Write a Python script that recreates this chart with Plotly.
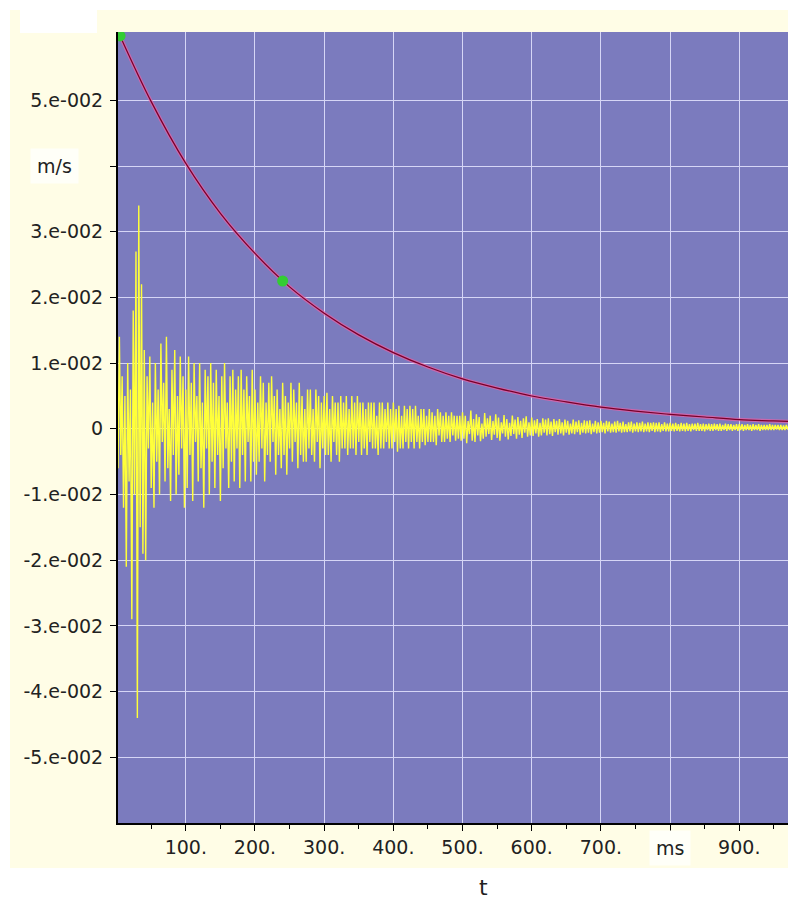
import plotly.graph_objects as go

# ---------------- data ----------------
# velocity signal (m/s), sampled every 2 ms; first half 0-498 ms
signal_early = [
    0.003, -0.006, 0.014, -0.004, 0.008, -0.012, 0.005, -0.021, 0.010, -0.008,
    0.006, -0.029, 0.018, -0.010, 0.027, -0.044, 0.034, -0.015, 0.022, -0.019,
    0.012, -0.020, 0.008, -0.003, 0.011, -0.009, 0.004, -0.012, 0.010, -0.005,
    0.006, -0.010, 0.013, -0.002, 0.007, -0.008, 0.014, -0.006, 0.003, -0.011,
    0.009, -0.004, 0.012, -0.010, 0.005, -0.007, 0.011, -0.003, 0.008, -0.012,
    0.006, -0.009, 0.011, -0.004, 0.007, -0.011, 0.010, -0.002, 0.005, -0.008,
    0.010, -0.006, 0.004, -0.012, 0.009, -0.003, 0.008, -0.010, 0.010, -0.005,
    0.007, -0.009, 0.009, -0.004, 0.005, -0.011, 0.008, -0.006, 0.010, -0.003,
    0.004, -0.009, 0.008, -0.005, 0.009, -0.008, 0.006, -0.003, 0.008, -0.009,
    0.009, -0.004, 0.006, -0.008, 0.008, -0.002, 0.005, -0.008, 0.009, -0.005,
    0.006, -0.007, 0.004, -0.005, 0.008, -0.003, 0.007, -0.008, 0.004, -0.004,
    0.007, -0.005, 0.008, -0.002, 0.005, -0.007, 0.006, -0.004, 0.003, -0.006,
    0.007, -0.004, 0.005, -0.007, 0.004, -0.003, 0.007, -0.005, 0.006, -0.002,
    0.004, -0.006, 0.007, -0.004, 0.005, -0.005, 0.003, -0.005, 0.006, -0.003,
    0.006, -0.004, 0.003, -0.005, 0.006, -0.002, 0.005, -0.006, 0.004, -0.003,
    0.005, -0.004, 0.0055, -0.004, 0.003, -0.005, 0.005, -0.002, 0.004, -0.004,
    0.004, -0.005, 0.005, -0.003, 0.004, -0.003, 0.005, -0.004, 0.003, -0.003,
    0.005, -0.003, 0.004, -0.004, 0.005, -0.002, 0.004, -0.004, 0.004, -0.003,
    0.003, -0.004, 0.004, -0.002, 0.004, -0.003, 0.004, -0.003, 0.002, -0.004,
    0.004, -0.003, 0.004, -0.003, 0.003, -0.002, 0.004, -0.003, 0.003, -0.003,
    0.004, -0.002, 0.003, -0.0035, 0.0035, -0.003, 0.002, -0.003, 0.0035, -0.002,
    0.003, -0.003, 0.0035, -0.002, 0.003, -0.003, 0.0035, -0.002, 0.002, -0.003,
    0.003, -0.002, 0.003, -0.0025, 0.002, -0.002, 0.003, -0.002, 0.0025, -0.002,
    0.002, -0.0025, 0.003, -0.001, 0.0025, -0.002, 0.002, -0.002, 0.0025, -0.0015,
    0.002, -0.002, 0.0025, -0.001, 0.002, -0.0018, 0.002, -0.0015, 0.002, -0.0018,
]
# second half 500-998 ms
signal_late = [
    0.0025, -0.0015, 0.002, -0.0022, 0.0012, -0.0008, 0.0028, -0.0018, 0.0015, -0.002,
    0.0022, -0.001, 0.0018, -0.0019, 0.0008, -0.0015, 0.0024, -0.0012, 0.0016, -0.0008,
    0.002, -0.0017, 0.0012, -0.0009, 0.0022, -0.0014, 0.0017, -0.0018, 0.001, -0.0007,
    0.0021, -0.0012, 0.0015, -0.0016, 0.0009, -0.0011, 0.002, -0.0008, 0.0014, -0.0015,
    0.0018, -0.0009, 0.0012, -0.0014, 0.0016, -0.0006, 0.0019, -0.0012, 0.001, -0.001,
    0.0017, -0.0011, 0.0013, -0.0007, 0.0015, -0.0012, 0.0009, -0.001, 0.0016, -0.0006,
    0.0014, -0.001, 0.0016, -0.0008, 0.0011, -0.0011, 0.0015, -0.0005, 0.0012, -0.0009,
    0.0015, -0.0007, 0.001, -0.001, 0.0014, -0.0006, 0.0012, -0.0009, 0.0008, -0.0007,
    0.0014, -0.0008, 0.0011, -0.0005, 0.0013, -0.0009, 0.0009, -0.0006, 0.0013, -0.0007,
    0.0012, -0.0006, 0.0013, -0.0008, 0.0008, -0.0005, 0.0012, -0.0007, 0.001, -0.0006,
    0.0012, -0.0005, 0.0009, -0.0007, 0.0012, -0.0004, 0.0011, -0.0006, 0.0008, -0.0005,
    0.0011, -0.0006, 0.0012, -0.0004, 0.0009, -0.0006, 0.0011, -0.0005, 0.0007, -0.0005,
    0.001, -0.0004, 0.0011, -0.0006, 0.0008, -0.0004, 0.001, -0.0005, 0.0009, -0.0004,
    0.0011, -0.0005, 0.0008, -0.0004, 0.001, -0.0005, 0.0009, -0.0003, 0.001, -0.0005,
    0.0009, -0.0004, 0.001, -0.0005, 0.0007, -0.0003, 0.001, -0.0004, 0.0008, -0.0004,
    0.0009, -0.0003, 0.0008, -0.0004, 0.0009, -0.0003, 0.0007, -0.0004, 0.0009, -0.0003,
    0.0008, -0.0004, 0.0009, -0.0003, 0.0007, -0.0004, 0.0008, -0.0002, 0.0008, -0.0003,
    0.0009, -0.0003, 0.0007, -0.0003, 0.0008, -0.0004, 0.0007, -0.0002, 0.0008, -0.0003,
    0.0007, -0.0003, 0.0008, -0.0002, 0.0007, -0.0003, 0.0008, -0.0003, 0.0006, -0.0002,
    0.0008, -0.0003, 0.0007, -0.0002, 0.0007, -0.0003, 0.0006, -0.0002, 0.0007, -0.0003,
    0.0007, -0.0002, 0.0007, -0.0003, 0.0006, -0.0002, 0.0007, -0.0002, 0.0006, -0.0003,
    0.0007, -0.0002, 0.0006, -0.0002, 0.0007, -0.0003, 0.0006, -0.0002, 0.0006, -0.0002,
    0.0006, -0.0002, 0.0007, -0.0002, 0.0006, -0.0002, 0.0006, -0.0001, 0.0006, -0.0002,
    0.0006, -0.0002, 0.0005, -0.0002, 0.0006, -0.0001, 0.0006, -0.0002, 0.0005, -0.0002,
    0.0006, -0.0001, 0.0005, -0.0002, 0.0006, -0.0001, 0.0005, -0.0002, 0.0006, -0.0001,
]
signal = signal_early + signal_late
signal_t = [i * 2 for i in range(len(signal))]

# decay envelope
envelope_t = [5, 50, 100, 150, 200, 250, 300, 350, 400, 450, 500,
              550, 600, 650, 700, 750, 800, 850, 900, 950, 1000]
envelope_v = [0.0598, 0.0498, 0.0404, 0.0328, 0.0267, 0.0216, 0.0176, 0.0143,
              0.0116, 0.0094, 0.0076, 0.0062, 0.0050, 0.0041, 0.0033, 0.0027,
              0.0022, 0.0018, 0.0014, 0.0012, 0.0010]

# green marker points on the envelope
marker_t = [5, 240]
marker_v = [0.0598, 0.0225]

x_tickvals = [0, 100, 200, 300, 400, 500, 600, 700, 800, 900]
x_ticktext = ["", "100.", "200.", "300.", "400.", "500.", "600.", "700.", "", "900."]
x_minor = [50, 150, 250, 350, 450, 550, 650, 750, 850, 950]
y_tickvals = [-0.05, -0.04, -0.03, -0.02, -0.01, 0, 0.01, 0.02, 0.03, 0.04, 0.05]
y_ticktext = ["-5.e-002", "-4.e-002", "-3.e-002", "-2.e-002", "-1.e-002", "0",
              "1.e-002", "2.e-002", "3.e-002", "", "5.e-002"]

# ---------------- figure ----------------
# page has an 8px body margin, so the figure is 8px smaller and offset
OFF = 8
W, H = 796 - OFF, 903 - OFF
ML, MR, MT, MB = 118 - OFF, 0, 32 - OFF, 80
PW, PH = W - ML - MR, H - MT - MB


def px(x):  # x in reference-window pixels -> paper coords
    return (x - OFF - ML) / PW


def py(y):  # y in reference-window pixels -> paper coords
    return (903 - MB - y) / PH


fig = go.Figure()

fig.add_trace(go.Scatter(
    x=signal_t, y=signal, mode="lines",
    line=dict(color="#FFFF3A", width=1.4), hoverinfo="skip", showlegend=False))

fig.add_trace(go.Scatter(
    x=envelope_t, y=envelope_v, mode="lines",
    line=dict(color="rgba(235,95,165,0.7)", width=3.5, shape="spline"),
    hoverinfo="skip", showlegend=False))
fig.add_trace(go.Scatter(
    x=envelope_t, y=envelope_v, mode="lines",
    line=dict(color="#780028", width=1.2, shape="spline"),
    hoverinfo="skip", showlegend=False))

fig.add_trace(go.Scatter(
    x=marker_t, y=marker_v, mode="markers",
    marker=dict(color="#33CC33", size=11, line=dict(width=0)),
    hoverinfo="skip", showlegend=False))

font = dict(family="DejaVu Sans, sans-serif", size=19, color="#222222")

fig.update_layout(
    width=W, height=H,
    margin=dict(l=ML, r=MR, t=MT, b=MB, pad=0),
    paper_bgcolor="#FFFDE6",
    plot_bgcolor="#7B7BBE",
    font=font,
    showlegend=False,
    xaxis=dict(
        range=[2, 982], tickmode="array", tickvals=x_tickvals, ticktext=x_ticktext,
        showgrid=True, gridcolor="#D6D6F6", gridwidth=1, zeroline=False,
        showline=True, linecolor="black", linewidth=2,
        ticks="outside", ticklen=6, tickcolor="black", tickwidth=1,
        minor=dict(tickvals=x_minor, ticks="outside", ticklen=4,
                   tickcolor="black", showgrid=False),
        tickfont=font,
    ),
    yaxis=dict(
        range=[-0.060, 0.0604], tickmode="array", tickvals=y_tickvals, ticktext=y_ticktext,
        showgrid=True, gridcolor="#D6D6F6", gridwidth=1, zeroline=False,
        showline=True, linecolor="black", linewidth=2,
        ticks="outside", ticklen=6, tickcolor="black", tickwidth=1,
        ticklabelstandoff=3,
        tickfont=font,
    ),
    shapes=[
        # white page border (left, top, bottom)
        dict(type="rect", xref="paper", yref="paper", x0=px(-20), x1=px(10), y0=py(920), y1=py(-20),
             fillcolor="white", line=dict(width=0), layer="above"),
        dict(type="rect", xref="paper", yref="paper", x0=px(-20), x1=px(820), y0=py(10), y1=py(-20),
             fillcolor="white", line=dict(width=0), layer="above"),
        dict(type="rect", xref="paper", yref="paper", x0=px(-20), x1=px(820), y0=py(920), y1=py(868),
             fillcolor="white", line=dict(width=0), layer="above"),
        # blank white label box at top left
        dict(type="rect", xref="paper", yref="paper", x0=px(20), x1=px(97), y0=py(33), y1=py(10),
             fillcolor="white", line=dict(width=0), layer="above"),
    ],
    annotations=[
        dict(text="m/s", xref="paper", yref="y", x=px(55), y=0.04, showarrow=False,
             font=font, bgcolor="#FFFFF8", borderpad=6, xanchor="center", yanchor="middle"),
        dict(text="ms", xref="x", yref="paper", x=800, y=py(848), showarrow=False,
             font=font, bgcolor="#FFFFF8", borderpad=6, xanchor="center", yanchor="middle"),
        dict(text="t", xref="paper", yref="paper", x=px(484), y=py(887), showarrow=False,
             font=dict(family="DejaVu Sans, sans-serif", size=22, color="#222222"),
             xanchor="center", yanchor="middle"),
    ],
)

fig.write_html("out.html")
